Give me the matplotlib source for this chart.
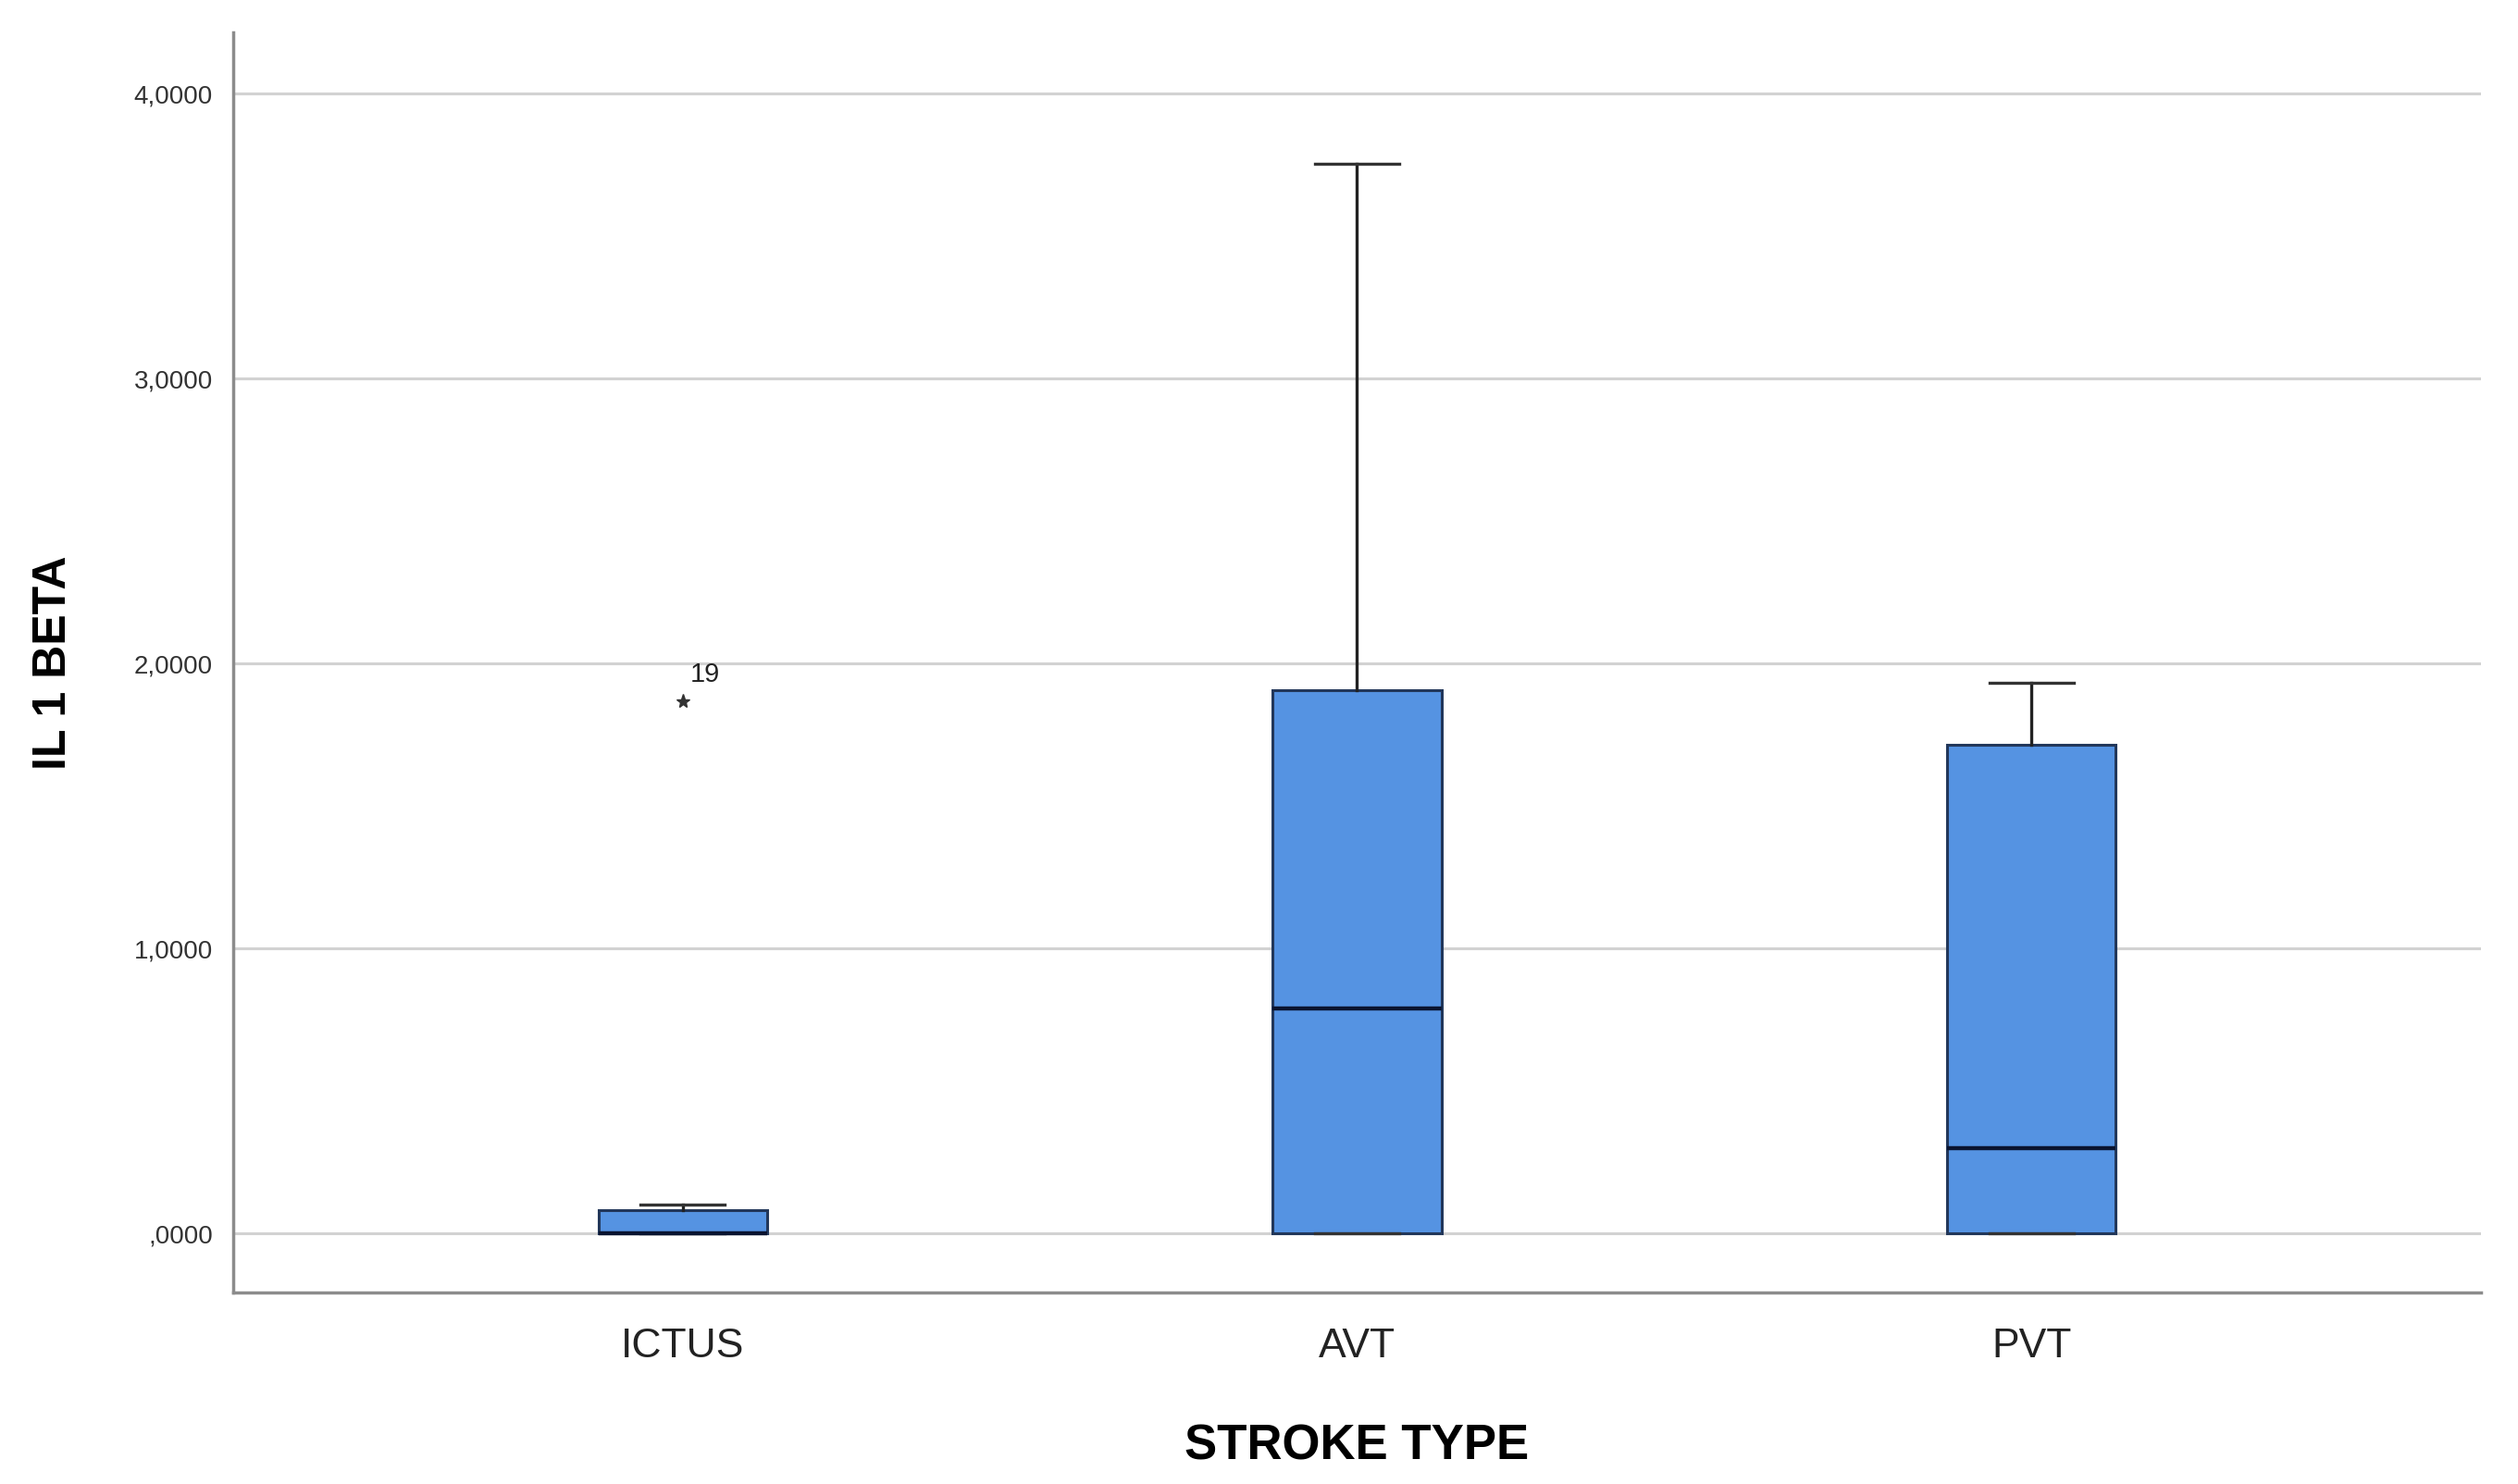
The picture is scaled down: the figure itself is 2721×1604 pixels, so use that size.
import matplotlib
matplotlib.use("Agg")
import matplotlib.pyplot as plt

# Box summary values (IL 1 BETA by stroke type)
groups = ["ICTUS", "AVT", "PVT"]
q1 = [0.0, 0.0, 0.0]
medians = [0.0, 0.79, 0.30]
q3 = [0.08, 1.905, 1.713]
whisker_low = [0.0, 0.0, 0.0]
whisker_high = [0.10, 3.753, 1.932]
outliers = [[1.868], [], []]
outlier_ids = [["19"], [], []]

y_ticks = [0, 1, 2, 3, 4]
y_tick_labels = [",0000", "1,0000", "2,0000", "3,0000", "4,0000"]

plt.rcParams['font.family'] = ['Liberation Sans', 'DejaVu Sans']

fig = plt.figure(figsize=(27.21, 16.04), dpi=100)
ax = fig.add_axes([0.0926, 0.129, 0.8927, 0.849])

stats = []
for i, g in enumerate(groups):
    stats.append({
        "label": g, "q1": q1[i], "med": medians[i], "q3": q3[i],
        "whislo": whisker_low[i], "whishi": whisker_high[i], "fliers": outliers[i],
    })

positions = list(range(1, len(groups) + 1))
ax.bxp(stats, positions=positions, widths=0.25, patch_artist=True,
       boxprops=dict(facecolor="#5593E2", edgecolor="#22375A", linewidth=2.2),
       medianprops=dict(color="#0A1430", linewidth=3.2),
       whiskerprops=dict(color="#222222", linewidth=2.4),
       capprops=dict(color="#333333", linewidth=2.4),
       capwidths=0.125,
       flierprops=dict(marker="*", markerfacecolor="#333333", markeredgecolor="#333333",
                       markersize=11, linestyle="none"),
       zorder=3)

# outlier case numbers
for pos, vals, ids in zip(positions, outliers, outlier_ids):
    for v, lab in zip(vals, ids):
        ax.annotate(lab, (pos, v), xytext=(6, 15), textcoords="offset points",
                    fontsize=21, color="#222222")

ax.set_xlim(1 / 3, 3 + 2 / 3)
ax.set_ylim(-0.208, 4.214)
ax.set_yticks(y_ticks)
ax.set_yticklabels(y_tick_labels, fontsize=20, color="#333333")
ax.set_xticks(positions)
ax.set_xticklabels(groups, fontsize=32, color="#222222")
ax.tick_params(axis="both", length=0)
ax.tick_params(axis="y", pad=16)
ax.tick_params(axis="x", pad=27)

ax.yaxis.grid(True, color="#D2D2D2", linewidth=2.2, zorder=0)
ax.set_axisbelow(True)

for s in ["top", "right"]:
    ax.spines[s].set_visible(False)
for s in ["left", "bottom"]:
    ax.spines[s].set_color("#8C8C8C")
    ax.spines[s].set_linewidth(2.5)

ax.set_xlabel("STROKE TYPE", fontsize=38, fontweight="bold", labelpad=45)
ax.set_ylabel("IL 1 BETA", fontsize=36, fontweight="bold", labelpad=46)

fig.savefig("out.png", dpi=100, facecolor="white")
